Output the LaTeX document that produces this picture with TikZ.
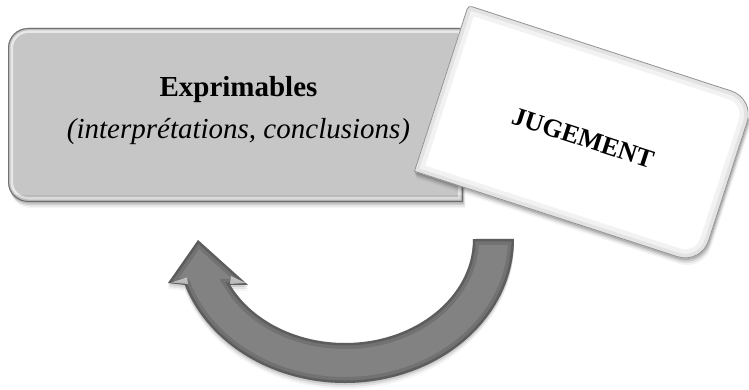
\documentclass[tikz,border=0pt]{standalone}
\usepackage{fontspec}
\setmainfont{Liberation Serif}

\definecolor{panelgray}{RGB}{198,198,198}
\definecolor{arrowgray}{RGB}{130,130,130}
\definecolor{rimgray}{RGB}{95,95,95}

% outline of the grey panel (rounded on the left only)
\newcommand\panelpath{(463,187) -- (463,361) -- (28,361)
  arc[start angle=90,end angle=180,radius=20] -- (8,207)
  arc[start angle=180,end angle=270,radius=20] -- cycle}
% outline of the white card, in its own rotated frame
\newcommand\cardpath{(-151,-87.5) -- (-151,83.5)
  arc[start angle=180,end angle=90,radius=4] -- (126,87.5)
  arc[start angle=90,end angle=0,radius=25] -- (151,-62.5)
  arc[start angle=0,end angle=-90,radius=25] -- cycle}
% outline of the curved return arrow
\newcommand\arrowpath{(473,150)
  arc[start angle=0,end angle=-153.8,x radius=128,y radius=104]
  -- (248,104) -- (198,149) -- (168,106) -- (184.8,104.1)
  arc[start angle=-161.4,end angle=0,x radius=169,y radius=144] -- cycle}

\begin{document}
\begin{tikzpicture}[x=1pt,y=1pt,
  bigbold/.style={font=\bfseries\fontsize{29}{34}\selectfont, inner sep=0pt},
  bigital/.style={font=\itshape\fontsize{29}{34}\selectfont, inner sep=0pt},
  cardtext/.style={font=\bfseries\fontsize{26}{30}\selectfont, inner sep=0pt}]
\useasboundingbox (0,0) rectangle (749,389);

% ---- grey panel ----
\foreach \d/\o in {1.5/0.12,3/0.09,4.5/0.06,6/0.04}
  \fill[black, opacity=\o, shift={(0.4*\d,-\d)}] \panelpath;
\fill[panelgray] \panelpath;
\begin{scope}
  \clip \panelpath;
  \draw[white, opacity=0.6, line width=10] \panelpath;
  \draw[panelgray, line width=5] \panelpath;
  \draw[rimgray, opacity=0.8, line width=2.2] \panelpath;
  \fill[black, opacity=0.06] (0,187) rectangle (470,194);
\end{scope}
\node[bigbold, anchor=base] (expr) at (238.5,292) {Exprimables};
\node[bigital, anchor=base] (exprsub) at (238.5,251) {(interprétations, conclusions)};

% ---- white card ----
\begin{scope}[shift={(584.6,254.1)}, rotate=-18]
  \foreach \d/\o in {1.5/0.14,3/0.10,4.5/0.07,6/0.04}
    \fill[black, opacity=\o, shift={(0.7*\d,-\d)}] \cardpath;
  \fill[white] \cardpath;
  \begin{scope}
    \clip \cardpath;
    \draw[black, opacity=0.05, line width=18] \cardpath;
    \draw[black, opacity=0.06, line width=9] \cardpath;
    \draw[rimgray, opacity=0.6, line width=1.6] \cardpath;
  \end{scope}
\end{scope}
\node[cardtext, rotate=-18] (jug) at (583,251) {JUGEMENT};

% ---- curved arrow ----
\foreach \d/\o in {2/0.10,4/0.07,6/0.04}
  \fill[black, opacity=\o, shift={(0,-\d)}] \arrowpath;
\fill[arrowgray] \arrowpath;
\begin{scope}
  \clip \arrowpath;
  \draw[black, opacity=0.12, line width=12] \arrowpath;
  \draw[black, opacity=0.18, line width=5] \arrowpath;
  \fill[white, opacity=0.55] (171,106.5) -- (187,111.5) -- (188,105) -- cycle;
  \fill[white, opacity=0.55] (230,105) -- (246,106) -- (231,113) -- cycle;
\end{scope}
\end{tikzpicture}
\end{document}
